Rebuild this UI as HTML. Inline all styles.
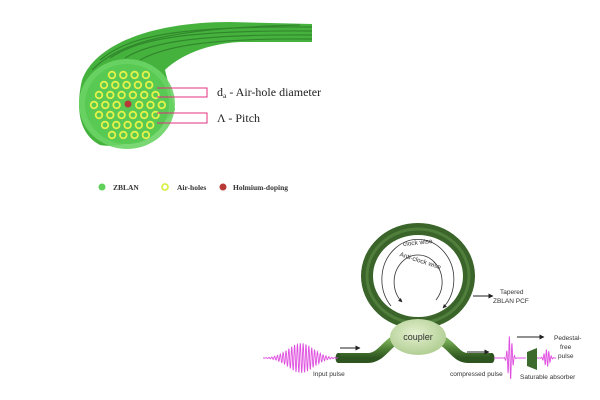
<!DOCTYPE html>
<html><head><meta charset="utf-8"><style>
html,body{margin:0;padding:0;background:#fff;width:600px;height:400px;overflow:hidden}
svg{display:block}
.s{font-family:"Liberation Sans",sans-serif}
.r{font-family:"Liberation Serif",serif}
</style></head><body>
<svg id="s" width="600" height="400" viewBox="0 0 600 400" xmlns="http://www.w3.org/2000/svg">
<defs>
<radialGradient id="cp" cx="0.45" cy="0.4" r="0.7"><stop offset="0" stop-color="#e4f0cf"/><stop offset="1" stop-color="#a9c98a"/></radialGradient>
<linearGradient id="tb" x1="0" y1="0" x2="0" y2="1"><stop offset="0" stop-color="#7bae5a"/><stop offset="0.5" stop-color="#4d7f34"/><stop offset="1" stop-color="#2e5420"/></linearGradient>
<marker id="ah" viewBox="0 0 10 10" refX="9" refY="5" markerWidth="5" markerHeight="5" orient="auto"><path d="M0,0L10,5L0,10z" fill="#222"/></marker>
</defs>
<path d="M82,80 C95,45 150,22 230,22 L312,24 L312,42 L240,42 C200,44 175,60 165,70 L175,110 C160,130 130,150 100,145 C80,135 75,110 82,80z" fill="#46b23e"/>
<g stroke="#2c7d27" stroke-width="1.2" fill="none" opacity="0.8">
<path d="M100,60 C130,35 180,26 312,27"/><path d="M110,58 C140,38 190,30 312,31"/><path d="M125,58 C150,42 200,34 312,35"/><path d="M140,60 C165,46 210,38 312,39"/><path d="M92,70 C120,42 170,28 300,25"/></g>
<ellipse cx="127" cy="104" rx="48" ry="45" fill="#6ad465" opacity="0.9"/>
<ellipse cx="127" cy="104" rx="42" ry="40" fill="#58c952"/>
<g id="holes"></g>
<circle cx="128" cy="104" r="3.5" fill="#b83a36"/>
<g stroke="#e0307e" stroke-width="1" fill="none">
<path d="M157,88 H207 V97 H157"/><path d="M157,113 H207 V123 H157"/></g>
<text x="217" y="96" font-size="12" class="r" fill="#222">d<tspan font-size="7.5" dy="2">a</tspan><tspan dy="-2"> - Air-hole diameter</tspan></text>
<text x="217" y="122" font-size="12" class="r" fill="#222">Λ - Pitch</text>
<circle cx="102" cy="187" r="3.5" fill="#5fd05a"/>
<text x="113" y="190" font-size="7.5" font-weight="bold" class="r" fill="#333">ZBLAN</text>
<circle cx="165" cy="187" r="3" fill="none" stroke="#d8f04a" stroke-width="1.8"/>
<text x="177" y="190" font-size="7.5" font-weight="bold" class="r" fill="#333">Air-holes</text>
<circle cx="223" cy="187" r="3.5" fill="#b83a36"/>
<text x="233" y="190" font-size="7.5" font-weight="bold" class="r" fill="#333">Holmium-doping</text>

<ellipse cx="418" cy="276" rx="51" ry="47" fill="none" stroke="#3a6429" stroke-width="12"/>
<ellipse cx="418" cy="276" rx="51" ry="47" fill="none" stroke="#507f3c" stroke-width="3"/>
<path d="M391,306 A36,40 0 1 1 443,308" fill="none" stroke="#333" stroke-width="0.8" marker-end="url(#ah)"/>
<path d="M436,300 A24,27 0 1 0 402,302" fill="none" stroke="#333" stroke-width="0.8" marker-end="url(#ah)"/>
<text x="403" y="245" font-size="6.5" class="s" fill="#333" transform="rotate(-6 414 243)">clock wise</text>
<text x="399" y="262" font-size="6.5" class="s" fill="#333" transform="rotate(18 418 260)">Anti-clock wise</text>
<path d="M338,358 H368 C380,358 386,345 395,340" fill="none" stroke="url(#tb)" stroke-width="10"/>
<path d="M441,340 C452,345 456,358 468,358 H492" fill="none" stroke="url(#tb)" stroke-width="10"/>
<ellipse cx="338" cy="358" rx="2.5" ry="5" fill="#2e5420"/>
<ellipse cx="492" cy="358" rx="2.5" ry="5" fill="#2e5420"/>
<ellipse cx="418" cy="337" rx="28" ry="18" fill="url(#cp)"/>
<text x="418" y="340" font-size="9" class="s" fill="#333" text-anchor="middle">coupler</text>
<line x1="473" y1="296" x2="493" y2="296" stroke="#222" stroke-width="1" marker-end="url(#ah)"/>
<text x="500" y="294" font-size="6.5" class="s" fill="#333">Tapered</text>
<text x="493" y="303" font-size="6.5" class="s" fill="#333">ZBLAN PCF</text>
<line x1="340" y1="348" x2="360" y2="348" stroke="#222" stroke-width="1" marker-end="url(#ah)"/>
<line x1="467" y1="352" x2="489" y2="352" stroke="#222" stroke-width="1" marker-end="url(#ah)"/>
<line x1="517" y1="337" x2="544" y2="337" stroke="#222" stroke-width="1" marker-end="url(#ah)"/>
<g id="pulses" fill="none" stroke="#e050e0" stroke-width="0.9"></g>
<path d="M527,352 L537,348 L537,370 L527,366z" fill="#3d6b2c"/>
<text x="313" y="376" font-size="6.5" class="s" fill="#333">Input pulse</text>
<text x="450" y="376" font-size="6.5" class="s" fill="#333">compressed pulse</text>
<text x="520" y="379" font-size="6.5" class="s" fill="#333">Saturable absorber</text>
<text x="554" y="340" font-size="6.5" class="s" fill="#333">Pedestal-</text>
<text x="560" y="349" font-size="6.5" class="s" fill="#333">free</text>
<text x="558" y="358" font-size="6.5" class="s" fill="#333">pulse</text>
</svg>
<script>
var NS="http://www.w3.org/2000/svg";
var rows=[[75,4,112],[85,5,104],[95,6,99],[105,7,94],[115,6,99],[125,5,105],[135,4,112]];
var g=document.getElementById('holes');
rows.forEach(function(r){for(var i=0;i<r[1];i++){var x=r[2]+i*11.3;if(r[0]==105&&i==3)continue;
var c=document.createElementNS(NS,'circle');c.setAttribute('cx',x);c.setAttribute('cy',r[0]);c.setAttribute('r',3.3);
c.setAttribute('fill','#58c952');c.setAttribute('stroke','#e4f24a');c.setAttribute('stroke-width','1.8');g.appendChild(c);}});
var p=document.getElementById('pulses');
function pulse(x0,x1,xc,w,A,f,y){var d='';for(var x=x0;x<=x1;x+=0.3){var e=Math.exp(-Math.pow((x-xc)/w,2));var yy=y+A*e*Math.sin((x-xc)*f);d+=(d?'L':'M')+x.toFixed(1)+','+yy.toFixed(1);}
var q=document.createElementNS(NS,'path');q.setAttribute('d',d);p.appendChild(q);}
pulse(263,338,301,18,15,2.2,358);
pulse(494,526,510,3,23,2.4,358);
pulse(537,556,547,3.5,9,2.6,358);
</script>
</body></html>
